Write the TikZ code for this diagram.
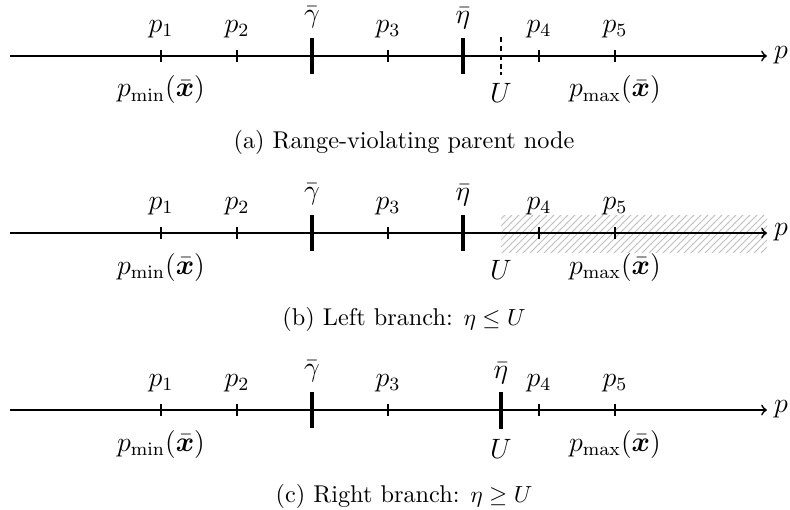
\documentclass[tikz,border=0pt]{standalone}
\usepackage{amsmath,bm}
\usetikzlibrary{patterns}
\begin{document}
\begin{tikzpicture}[x=0.4286pt,y=-0.4286pt,
  axis/.style={line width=0.75pt,->},
  smalltick/.style={line width=0.65pt},
  bigtick/.style={line width=1.4pt},
  dashtick/.style={line width=0.45pt,dash pattern=on 2.2pt off 1.6pt},
  lab/.style={inner sep=0pt,font=\large},
  captxt/.style={inner sep=0pt,font=\fontsize{10.4}{12.5}\selectfont}]
\useasboundingbox (0,0) rectangle (790,510);
\foreach \r/\yy in {a/56,b/233,c/410}{
  \coordinate (L\r) at (10,\yy);
  \coordinate (R\r) at (767,\yy);
}
% shading in (b)
\fill[pattern=north east lines,pattern color=gray!50] (501,215) rectangle (767,252);
\foreach \r/\yy in {a/56,b/233,c/410}{
  \draw[axis] (L\r) -- (R\r);
  \node[lab] (pp\r) at (781,\yy-1) {$p$};
  \draw[smalltick] (161,\yy-6) -- (161,\yy+6);
  \draw[smalltick] (237,\yy-6) -- (237,\yy+6);
  \draw[smalltick] (388,\yy-6) -- (388,\yy+6);
  \draw[smalltick] (539,\yy-6) -- (539,\yy+6);
  \draw[smalltick] (615,\yy-6) -- (615,\yy+6);
  \draw[bigtick] (312,\yy-18) -- (312,\yy+18);
  \node[lab] (p1\r) at (161,\yy-27) {$p_1$};
  \node[lab] (p2\r) at (237,\yy-27) {$p_2$};
  \node[lab] (p3\r) at (388,\yy-27) {$p_3$};
  \node[lab] (p4\r) at (539,\yy-27) {$p_4$};
  \node[lab] (p5\r) at (615,\yy-27) {$p_5$};
  \node[lab] (g\r) at (312,\yy-39) {$\bar{\gamma}$};
  \node[lab] (pmin\r) at (161,\yy+34) {$p_{\min}(\bar{\bm{x}})$};
  \node[lab] (pmax\r) at (615,\yy+34) {$p_{\max}(\bar{\bm{x}})$};
}
% (a)
\draw[bigtick] (463,38) -- (463,74);
\node[lab] (ea) at (463,18) {$\bar{\eta}$};
\draw[dashtick] (501,37) -- (501,75);
\node[lab] (Ua) at (501,93) {$U$};
\node[captxt] (capa) at (404,142) {(a) Range-violating parent node};
% (b)
\draw[bigtick] (463,215) -- (463,251);
\node[lab] (eb) at (463,195) {$\bar{\eta}$};
\node[lab] (Ub) at (501,270) {$U$};
\node[captxt] (capb) at (404,319) {(b) Left branch: $\eta \le U$};
% (c)
\draw[bigtick] (501,392) -- (501,429);
\node[lab] (ec) at (501,373) {$\bar{\eta}$};
\node[lab] (Uc) at (501,449) {$U$};
\node[captxt] (capc) at (404,496) {(c) Right branch: $\eta \ge U$};
\end{tikzpicture}
\end{document}
